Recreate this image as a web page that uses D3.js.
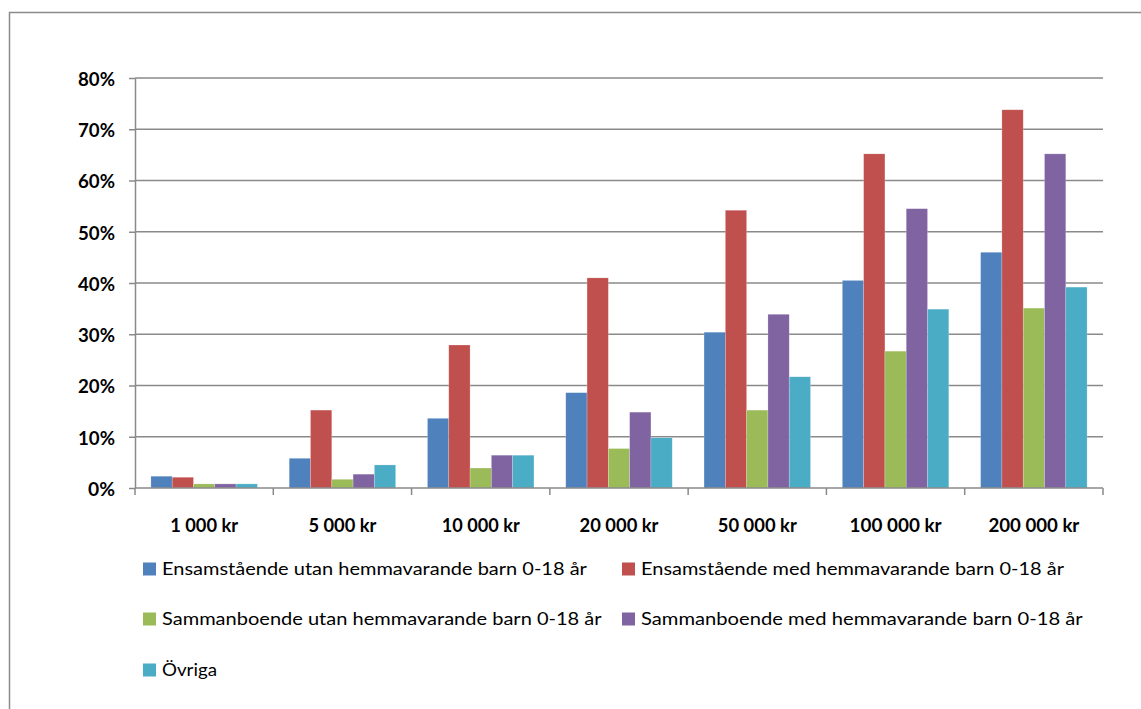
<!DOCTYPE html>
<html><head><meta charset="utf-8">
<script src="https://cdn.jsdelivr.net/npm/d3@7"></script>
<style>body{margin:0;background:#fff}svg{display:block}</style>
</head><body><svg id="c" width="1141" height="709"></svg>
<script>
const categories = ["1 000 kr","5 000 kr","10 000 kr","20 000 kr","50 000 kr","100 000 kr","200 000 kr"];
const seriesNames = [
  "Ensamstående utan hemmavarande barn 0-18 år",
  "Ensamstående med hemmavarande barn 0-18 år",
  "Sammanboende utan hemmavarande barn 0-18 år",
  "Sammanboende med hemmavarande barn 0-18 år",
  "Övriga"
];
const ensamUtan = [2.3, 5.8, 13.6, 18.6, 30.4, 40.5, 46.0];
const ensamMed = [2.1, 15.2, 27.9, 41.0, 54.2, 65.2, 73.8];
const sammanUtan = [0.8, 1.7, 3.9, 7.7, 15.2, 26.7, 35.1];
const sammanMed = [0.8, 2.7, 6.4, 14.8, 33.9, 54.5, 65.2];
const ovriga = [0.8, 4.5, 6.4, 9.8, 21.7, 34.9, 39.2];
const yTicks = [0,10,20,30,40,50,60,70,80];
const colors = ["#4F81BD","#C0504D","#9BBB59","#8064A2","#4BACC6"];
const seriesValues = [ensamUtan, ensamMed, sammanUtan, sammanMed, ovriga];

const svg = d3.select("#c");
const font = "Lato, 'Open Sans', sans-serif";
svg.append("rect").attr("x",9.5).attr("y",12.5).attr("width",1140).attr("height",710)
  .attr("fill","none").attr("stroke","#8a8a8a").attr("stroke-width",1.5);

const L=135, R=1103, T=78, B=488;
const x = d3.scaleBand().domain(categories).range([L,R]).paddingInner(0.23).paddingOuter(0.115);
const xs = d3.scaleBand().domain(d3.range(5)).range([0,x.bandwidth()]);
const y = d3.scaleLinear().domain([0,80]).range([B,T]);

// condensed text helper: draws text at (px,py) squeezed horizontally to width w
function ctext(parent, str, px, py, w, anchor, size, weight){
  const g = parent.append("g");
  const t = g.append("text").attr("x",0).attr("y",0).attr("dy","0.35em")
    .attr("font-family",font).attr("font-size",size).attr("font-weight",weight)
    .attr("fill","#000").attr("text-anchor",anchor).text(str);
  const nat = t.node().getComputedTextLength();
  const s = w/nat;
  g.attr("transform",`translate(${px},${py}) scale(${s},1)`);
  return g;
}

// gridlines
svg.append("g").selectAll("line").data(yTicks.filter(d=>d>0)).join("line")
  .attr("x1",L).attr("x2",R).attr("y1",d=>y(d)).attr("y2",d=>y(d))
  .attr("stroke","#8a8a8a").attr("stroke-width",1.5);

// bars
seriesValues.forEach((vals,si)=>{
  svg.append("g").selectAll("rect").data(vals).join("rect")
    .attr("x",(d,i)=>x(categories[i])+xs(si))
    .attr("width",xs.bandwidth())
    .attr("y",d=>y(d)).attr("height",d=>B-y(d))
    .attr("fill",colors[si]).attr("stroke","rgba(255,255,255,0.35)").attr("stroke-width",0.6);
});

// y axis
const ya = svg.append("g").attr("transform",`translate(${L},0)`)
  .call(d3.axisLeft(y).tickValues(yTicks).tickFormat("").tickSize(6).tickSizeOuter(0));
ya.select(".domain").attr("stroke","#8a8a8a").attr("stroke-width",1.5);
ya.selectAll(".tick line").attr("stroke","#8a8a8a").attr("stroke-width",1.5);
const yl = svg.append("g");
yTicks.forEach(v=>{
  ctext(yl, v+"%", 115, y(v)+1.5, v===0?27:37, "end", 18, "bold");
});

// x axis
const bounds = d3.range(categories.length+1).map(i=>L+i*(R-L)/categories.length);
svg.append("line").attr("x1",L).attr("x2",R).attr("y1",B).attr("y2",B)
  .attr("stroke","#8a8a8a").attr("stroke-width",1.5);
svg.append("g").selectAll("line").data(bounds).join("line")
  .attr("x1",d=>d).attr("x2",d=>d).attr("y1",B).attr("y2",B+7)
  .attr("stroke","#8a8a8a").attr("stroke-width",1.5);
const xw = [68,68,78,79,79,92,91];
const xl = svg.append("g");
categories.forEach((c,i)=>{
  ctext(xl, c, x(c)+x.bandwidth()/2, 526, xw[i], "middle", 18, "bold");
});

// legend
const legPos = [[143,569],[622,569],[143,619],[622,619],[143,670]];
const legW = [425, 423, 440, 442, 55];
const lg = svg.append("g");
seriesNames.forEach((n,i)=>{
  const [lx,ly]=legPos[i];
  lg.append("rect").attr("x",lx).attr("y",ly-6.5).attr("width",13).attr("height",13).attr("fill",colors[i]);
  ctext(lg, n, lx+19, ly, legW[i], "start", 18, "normal");
});
</script></body></html>
